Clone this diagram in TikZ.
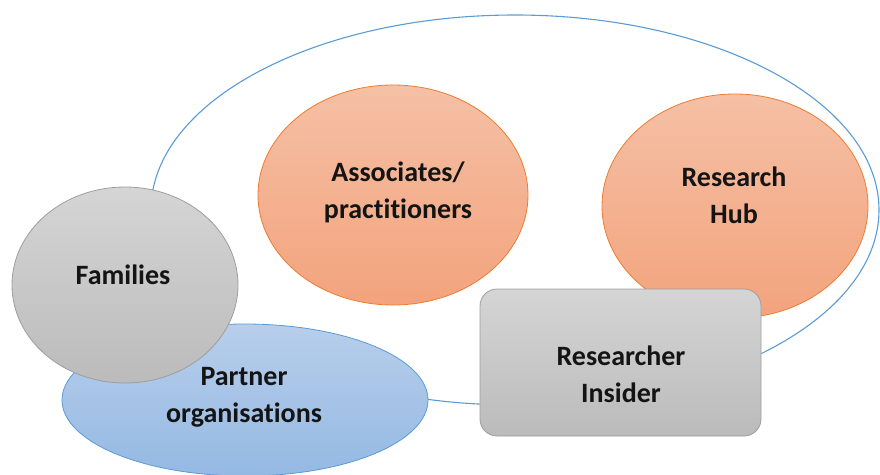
\documentclass[tikz,border=0pt]{standalone}
\usepackage{fontspec}
\setmainfont{Carlito}[Ligatures = NoCommon]
\usetikzlibrary{shapes.geometric}

\definecolor{ringblue}{RGB}{91,155,213}
\definecolor{peachtop}{RGB}{245,192,165}
\definecolor{peachbot}{RGB}{243,163,125}
\definecolor{peachline}{RGB}{237,125,49}
\definecolor{greytop}{RGB}{213,213,213}
\definecolor{greybot}{RGB}{187,187,187}
\definecolor{greyline}{RGB}{158,158,158}
\definecolor{bluetop}{RGB}{184,206,235}
\definecolor{bluebot}{RGB}{148,185,227}

\begin{document}
\begin{tikzpicture}
[
    x = 1pt, y = -1pt,
    every node/.append style = {align = center},
    blob/.style = {ellipse, inner sep = 0, line width = 0.8pt},
    peach/.style = {blob, draw = peachline, top color = peachtop, bottom color = peachbot},
    grey/.style = {draw = greyline, top color = greytop, bottom color = greybot, line width = 0.8pt},
    partner/.style = {blob, draw = ringblue, top color = bluetop, bottom color = bluebot},
    tag/.style = {font = \fontsize{28}{37}\selectfont\bfseries, text = black!92}]

\useasboundingbox (0,0) rectangle (880,474);

% outer loop
\draw[ringblue, line width = 1.1pt] (515,210) ellipse [x radius = 364pt, y radius = 195pt];

\node[peach, minimum width = 270, minimum height = 220] (associates) at (393,195) {};
\node[peach, minimum width = 266, minimum height = 224] (hub) at (735,206) {};
\node[partner, minimum width = 366, minimum height = 152] (partners) at (245,400) {};
\node[grey, blob, minimum width = 226, minimum height = 196] (families) at (125,285) {};
\node[grey, rectangle, rounded corners = 17pt, minimum width = 281, minimum height = 147] (insider) at (620.5,362.5) {};

\node[tag] (associates text) at (398,192) {Associates/\\practitioners};
\node[tag] (hub text) at (734,195) {Research\\Hub};
\node[tag] (families text) at (123,275) {Families};
\node[tag] (partners text) at (244,397) {Partner\\organisations};
\node[tag] (insider text) at (621,374) {Researcher\\Insider};

\end{tikzpicture}
\end{document}
